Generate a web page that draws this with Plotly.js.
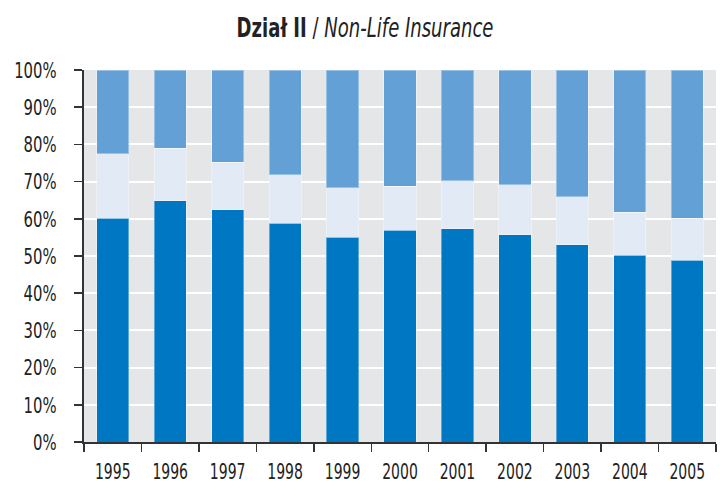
<!DOCTYPE html>
<html><head><meta charset="utf-8">
<script src="https://cdn.plot.ly/plotly-3.0.1.min.js"></script>
<style>html,body{margin:0;padding:0;background:#fff;}#chart{width:722px;height:484px;}</style>
</head><body><div id="chart"></div>
<script>
var years = ['1995','1996','1997','1998','1999','2000','2001','2002','2003','2004','2005'];
var bottomShare = [60.2, 64.9, 62.4, 58.8, 55.1, 56.9, 57.3, 55.7, 53.0, 50.2, 48.8];
var middleShare = [17.3, 14.0, 12.8, 13.0, 13.3, 11.8, 12.9, 13.5, 12.9, 11.6, 11.4];
var topShare = [22.5, 21.1, 24.8, 28.2, 31.6, 31.3, 29.8, 30.8, 34.1, 38.2, 39.8];
var yTicks = [0,10,20,30,40,50,60,70,80,90,100];
var yTickText = ['0%','10%','20%','30%','40%','50%','60%','70%','80%','90%','100%'];

var font = '"DejaVu Sans Condensed", "DejaVu Sans", sans-serif';
function tr(vals, color){
  return {type:'bar', x:years, y:vals, marker:{color:color, line:{color:'rgba(255,255,255,0.35)', width:1}}, hoverinfo:'skip'};
}
var data = [tr(bottomShare,'#0077c2'), tr(middleShare,'#e2eaf6'), tr(topShare,'#63a0d6')];
var layout = {
  width:722, height:484,
  margin:{l:84, r:6, t:70, b:42, pad:0},
  barmode:'stack', bargap:0.44,
  showlegend:false,
  paper_bgcolor:'#ffffff', plot_bgcolor:'#e5e6e8',
  title:{text:'<b>Dział II</b> / <i>Non-Life Insurance</i>', font:{family:font, size:27, color:'#222'}, x:0.5, xref:'container', xanchor:'center', y:1-28/484, yref:'container', yanchor:'middle'},
  xaxis:{type:'category', tickangle:0, tickson:'boundaries', ticks:'outside', ticklen:8, tickwidth:1.5, tickcolor:'#333', showline:true, linecolor:'#333', linewidth:2, showgrid:false, tickfont:{family:font, size:21, color:'#222'}, ticklabelstandoff:10},
  yaxis:{range:[0,100], tickvals:yTicks, ticktext:yTickText, ticks:'outside', ticklen:8, tickwidth:1.5, tickcolor:'#333', showline:true, linecolor:'#333', linewidth:2, showgrid:true, gridcolor:'#ffffff', gridwidth:2, zeroline:false, tickfont:{family:font, size:22, color:'#222'}, ticklabelstandoff:13}
};
function condense(sel, factor){
  document.querySelectorAll(sel).forEach(function(t){
    var w = t.getComputedTextLength();
    if (w > 0) { t.setAttribute('textLength', (w*factor).toFixed(1)); t.setAttribute('lengthAdjust','spacingAndGlyphs'); }
  });
}
Plotly.newPlot('chart', data, layout, {staticPlot:true, displayModeBar:false}).then(function(){
  condense('.xtick text', 0.74);
  condense('.ytick text', 0.75);
  var t = document.querySelector('.gtitle');
  if (t) {
    var b = t.getBBox();
    var cx = b.x + b.width/2, s = 257 / b.width;
    t.setAttribute('transform', 'translate(365,0) scale(' + s.toFixed(4) + ',1) translate(' + (-cx).toFixed(1) + ',0)');
  }
});
</script></body></html>
